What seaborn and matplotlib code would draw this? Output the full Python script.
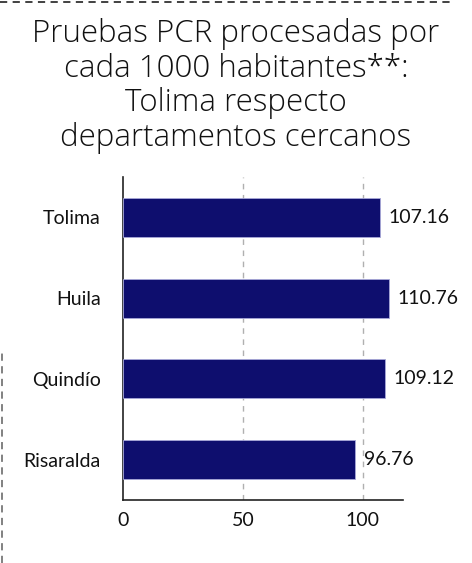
import matplotlib
matplotlib.use("Agg")
import matplotlib.pyplot as plt
from matplotlib.lines import Line2D
import pandas as pd
import seaborn as sns

# data
departamentos = ["Tolima", "Huila", "Quindío", "Risaralda"]
pruebas = [107.16, 110.76, 109.12, 96.76]
ticks_x = [0, 50, 100]

df = pd.DataFrame({"dep": departamentos, "val": pruebas})

sns.set_theme(style="white")
plt.rcParams["font.family"] = ["Lato", "DejaVu Sans"]

fig = plt.figure(figsize=(4.72, 5.63), dpi=100)
ax = fig.add_axes([123 / 472, 1 - 500 / 563, 280 / 472, 323 / 563])

sns.barplot(data=df, x="val", y="dep", color="#0e0e6e", width=0.48,
            edgecolor="#a8a8d8", linewidth=0.6, saturation=1, ax=ax, zorder=3)

ax.set_xlim(0, 116.7)
ax.set_ylim(3.5, -0.5)
ax.set_xticks(ticks_x)
ax.set_xlabel("")
ax.set_ylabel("")
ax.tick_params(axis="both", length=0, labelsize=14, colors="#111111")
ax.tick_params(axis="x", pad=9)
ax.tick_params(axis="y", pad=16)
for xv in ticks_x[1:]:
    ax.axvline(xv, color="#b0b0b0", linestyle=(0, (4, 4)), linewidth=1, zorder=1)

for s in ["top", "right"]:
    ax.spines[s].set_visible(False)
for s in ["left", "bottom"]:
    ax.spines[s].set_color("#222222")
    ax.spines[s].set_linewidth(1.2)

for i, v in enumerate(pruebas):
    ax.text(v + 3.5, i, f"{v:.2f}", va="center", ha="left", fontsize=14, color="#111111")

fig.text(0.5, 1 - 86 / 563,
         "Pruebas PCR procesadas por\ncada 1000 habitantes**:\nTolima respecto\ndepartamentos cercanos",
         ha="center", va="center", fontsize=22.5, color="#111111", fontweight="light",
         family=["Open Sans", "DejaVu Sans"], linespacing=1.1)

# dashed frame remnants
fig.add_artist(Line2D([0, 455 / 472], [1 - 2 / 563, 1 - 2 / 563], transform=fig.transFigure,
                      color="#333333", linestyle=(0, (4, 3)), linewidth=1.3))
fig.add_artist(Line2D([1.5 / 472, 1.5 / 472], [0, 1 - 350 / 563], transform=fig.transFigure,
                      color="#777777", linestyle=(0, (4, 3)), linewidth=1.3))

fig.savefig("out.png", dpi=100)
